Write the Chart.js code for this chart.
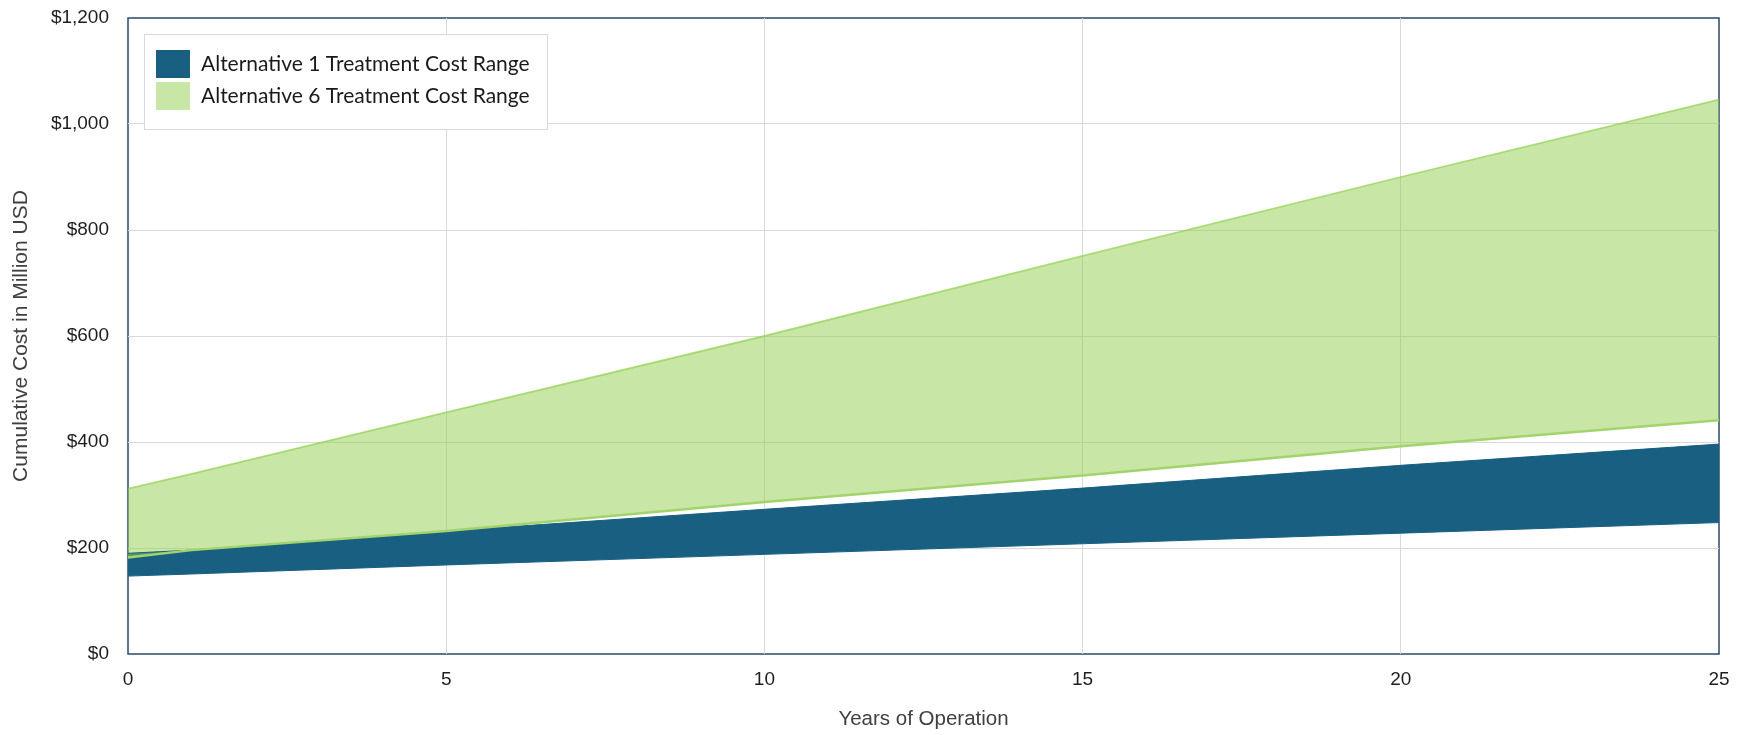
<!DOCTYPE html>
<html>
<head>
<meta charset="utf-8">
<title>Cumulative Treatment Cost</title>
<script src="https://cdn.jsdelivr.net/npm/chart.js@4/dist/chart.umd.min.js"></script>
<style>
  html, body { margin: 0; padding: 0; background: #ffffff; }
  #wrap { width: 1752px; height: 735px; }
</style>
</head>
<body>
<div id="wrap"><canvas id="costChart" width="1752" height="735"></canvas></div>
<script>
// Years of operation and cumulative cost bounds (million USD)
const years = [0, 1, 5, 10, 15, 20, 25];
const alt1Low = [147, 151, 168, 188, 208, 228, 248];
const alt1High = [190, 196, 232, 273, 313, 356, 396];
const alt6Low = [182, 196, 232, 287, 337, 392, 441];
const alt6High = [312, 340, 456, 600, 751, 900, 1046];

const xTicks = [0, 5, 10, 15, 20, 25];
const yTicks = [0, 200, 400, 600, 800, 1000, 1200];

const labelAlt1 = 'Alternative 1 Treatment Cost Range';
const labelAlt6 = 'Alternative 6 Treatment Cost Range';

const BLUE = '#185f81';
const GREEN_FILL = 'rgba(146, 208, 80, 0.5)';
const GREEN_EDGE = '#a3d36d';
const GREEN_TOP = 'rgba(146, 208, 80, 0.7)';
const GRID = '#d9d9d9';
const FRAME = '#2d4866';
const AXIS_FONT = "'Liberation Sans', Arial, sans-serif";

const toPoints = (values) => values.map((v, i) => ({ x: years[i], y: v }));

// Dark frame around the plotting area, under the data
const plotFrame = {
  id: 'plotFrame',
  beforeDraw(chart) {
    const { ctx, chartArea: a } = chart;
    ctx.save();
    ctx.strokeStyle = FRAME;
    ctx.lineWidth = 1.5;
    ctx.strokeRect(a.left, a.top, a.right - a.left, a.bottom - a.top);
    ctx.restore();
  }
};

// Boxed legend in the upper-left corner of the plot
const rangeLegend = {
  id: 'rangeLegend',
  afterDatasetsDraw(chart) {
    const { ctx, chartArea: a } = chart;
    const entries = chart.data.datasets.filter(d => d.inLegend);
    const x0 = a.left + 16, y0 = a.top + 16, w = 404, h = 96;
    ctx.save();
    ctx.fillStyle = '#ffffff';
    ctx.fillRect(x0, y0, w, h);
    ctx.strokeStyle = '#d9d9d9';
    ctx.lineWidth = 1;
    ctx.strokeRect(x0 + 0.5, y0 + 0.5, w - 1, h - 1);
    ctx.font = "21px Lato, 'Open Sans', sans-serif";
    ctx.textBaseline = 'middle';
    ctx.textAlign = 'left';
    entries.forEach((d, i) => {
      const cy = y0 + 30 + i * 32;
      ctx.fillStyle = d.backgroundColor;
      ctx.fillRect(x0 + 12, cy - 14, 34, 28);
      ctx.fillStyle = '#1a1a1a';
      ctx.fillText(d.label, x0 + 57, cy);
    });
    ctx.restore();
  }
};

const edgeAware = (edges) => (ctx) =>
  (ctx.tick && edges.includes(ctx.tick.value)) ? 'rgba(0,0,0,0)' : GRID;

new Chart(document.getElementById('costChart'), {
  type: 'line',
  data: {
    datasets: [
      {
        label: labelAlt1, inLegend: true, order: 2,
        data: toPoints(alt1High),
        borderColor: BLUE, backgroundColor: BLUE, borderWidth: 1,
        fill: '+1', pointRadius: 0, tension: 0
      },
      {
        label: labelAlt1 + ' (low)', order: 2,
        data: toPoints(alt1Low),
        borderColor: BLUE, backgroundColor: BLUE, borderWidth: 1,
        fill: false, pointRadius: 0, tension: 0
      },
      {
        label: labelAlt6, inLegend: true, order: 1,
        data: toPoints(alt6High),
        borderColor: GREEN_TOP, backgroundColor: GREEN_FILL, borderWidth: 1.8,
        fill: '+1', pointRadius: 0, tension: 0
      },
      {
        label: labelAlt6 + ' (low)', order: 1,
        data: toPoints(alt6Low),
        borderColor: GREEN_EDGE, backgroundColor: GREEN_FILL, borderWidth: 2.5,
        fill: false, pointRadius: 0, tension: 0
      }
    ]
  },
  options: {
    responsive: false,
    devicePixelRatio: 1,
    animation: false,
    layout: { padding: { top: 18, right: 33, left: 0, bottom: 0 } },
    plugins: {
      legend: { display: false },
      tooltip: { enabled: false },
      filler: { drawTime: 'beforeDatasetsDraw' }
    },
    scales: {
      x: {
        type: 'linear',
        min: 0, max: 25,
        afterBuildTicks: (scale) => { scale.ticks = xTicks.map(v => ({ value: v })); },
        afterFit: (scale) => {
          scale.height = 81;
          scale.paddingLeft = 0;
          scale.paddingRight = 0;
        },
        grid: { color: edgeAware([0, 25]), lineWidth: 1, drawTicks: false },
        border: { display: false },
        ticks: {
          padding: 14,
          color: '#1e1e1e',
          font: { family: AXIS_FONT, size: 19 },
          callback: (v) => String(v)
        },
        title: {
          display: true,
          text: 'Years of Operation',
          color: '#404040',
          font: { family: AXIS_FONT, size: 20.5 },
          padding: { top: 0, bottom: 3 }
        }
      },
      y: {
        min: 0, max: 1200,
        afterBuildTicks: (scale) => { scale.ticks = yTicks.map(v => ({ value: v })); },
        afterFit: (scale) => {
          scale.width = 128;
          scale.paddingTop = 0;
          scale.paddingBottom = 0;
        },
        grid: { color: edgeAware([0, 1200]), lineWidth: 1, drawTicks: false },
        border: { display: false },
        ticks: {
          padding: 19,
          color: '#1e1e1e',
          font: { family: AXIS_FONT, size: 19 },
          callback: (v) => '$' + Number(v).toLocaleString('en-US')
        },
        title: {
          display: true,
          text: 'Cumulative Cost in Million USD',
          color: '#404040',
          font: { family: AXIS_FONT, size: 21 },
          padding: { top: 9, bottom: 0 }
        }
      }
    }
  },
  plugins: [plotFrame, rangeLegend]
});
</script>
</body>
</html>
